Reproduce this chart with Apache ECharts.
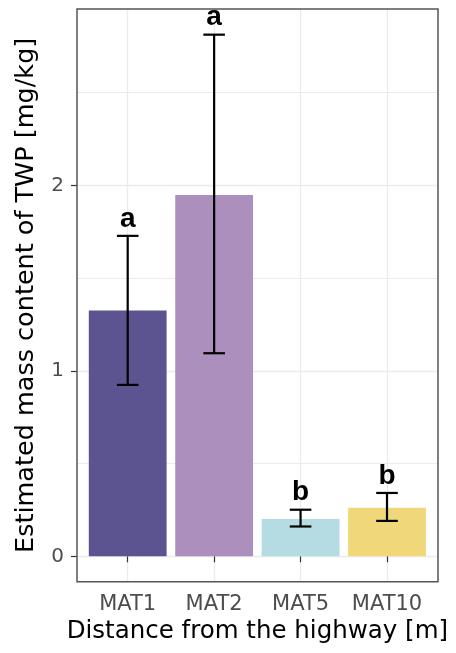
<!DOCTYPE html>
<html><head><meta charset="utf-8">
<script src="https://cdn.jsdelivr.net/npm/echarts@6/dist/echarts.min.js"></script>
<style>html,body{margin:0;padding:0;background:#fff}#c{width:456px;height:653px}</style>
</head><body><div id="c"></div>
<script>
// ---- data ----
const categories = ['MAT1', 'MAT2', 'MAT5', 'MAT10'];
const means = [1.32, 1.94, 0.20, 0.26];
const lower = [0.92, 1.09, 0.16, 0.19];
const upper = [1.72, 2.80, 0.25, 0.34];
const letters = ['a', 'a', 'b', 'b'];
const yTicks = [0, 1, 2];
const xTitle = 'Distance from the highway [m]';
const yTitle = 'Estimated mass content of TWP [mg/kg]';

// ---- style ----
const barColors = ['#5c5490', '#ad8fbd', '#b5dbe3', '#f0d77a'];
const FONT = '"DejaVu Sans", sans-serif';
const Z0 = 556.3, UNIT = 186.3;          // pixel row of y=0, pixels per unit
const PANEL = {left: 77, right: 438, top: 9, bottom: 581.7};
const H = 653, W = 456;

const chart = echarts.init(document.getElementById('c'));
chart.setOption({
  backgroundColor: '#ffffff',
  animation: false,
  grid: [
    // grid 0: y axis + horizontal grid lines across full panel
    {left: PANEL.left, right: W - PANEL.right, top: Z0 - 3 * UNIT, bottom: H - Z0},
    // grid 1: categories centered (first/last category at grid edges)
    {left: 127.7, right: W - 387, top: PANEL.top, bottom: H - PANEL.bottom}
  ],
  xAxis: [
    {gridIndex: 0, type: 'value', min: 0, max: 1, show: false},
    {
      gridIndex: 1, type: 'category', data: categories, boundaryGap: false,
      axisLine: {show: false},
      axisTick: {show: true, length: 6, lineStyle: {color: '#333333', width: 1.2}},
      axisLabel: {color: '#4d4d4d', fontSize: 21, fontFamily: FONT, margin: 12, interval: 0},
      splitLine: {show: true, lineStyle: {color: '#ebebeb', width: 1.3}},
      name: xTitle, nameLocation: 'middle', nameGap: 28,
      nameTextStyle: {color: '#000', fontSize: 24.5, fontFamily: FONT}
    }
  ],
  yAxis: [
    {
      gridIndex: 0, type: 'value', min: 0, max: 3, interval: 1,
      axisLine: {show: false},
      axisTick: {show: true, length: 6, customValues: yTicks, lineStyle: {color: '#333333', width: 1.2}},
      axisLabel: {
        color: '#4d4d4d', fontSize: 20, fontFamily: FONT, margin: 13, customValues: yTicks,
        formatter: v => yTicks.indexOf(v) >= 0 ? String(v) : ''
      },
      splitLine: {show: true, lineStyle: {color: '#ebebeb', width: 1.3}},
      minorTick: {show: false, splitNumber: 2},
      minorSplitLine: {show: true, lineStyle: {color: '#ebebeb', width: 1}}
    },
    {
      gridIndex: 1, type: 'value',
      min: -(PANEL.bottom - Z0) / UNIT, max: (Z0 - PANEL.top) / UNIT,
      axisLine: {show: false}, axisTick: {show: false}, axisLabel: {show: false},
      splitLine: {show: false},
      name: yTitle, nameLocation: 'middle', nameGap: 88,
      nameTextStyle: {color: '#000', fontSize: 25.5, fontFamily: FONT}
    }
  ],
  series: [
    {
      type: 'bar', xAxisIndex: 1, yAxisIndex: 1, clip: false,
      barWidth: '90%',
      data: means.map((v, i) => ({value: v, itemStyle: {color: barColors[i]}}))
    },
    {
      type: 'custom', xAxisIndex: 1, yAxisIndex: 1, clip: false, z: 5,
      data: categories.map((c, i) => [i, lower[i], upper[i]]),
      renderItem: function (params, api) {
        const i = api.value(0);
        const lo = api.coord([i, api.value(1)]);
        const hi = api.coord([i, api.value(2)]);
        const x = lo[0];
        const cw = api.size([1, 0])[0] * 0.25;
        const st = {stroke: '#000', lineWidth: 2.2};
        return {
          type: 'group',
          children: [
            {type: 'line', shape: {x1: x, y1: lo[1], x2: x, y2: hi[1]}, style: st},
            {type: 'line', shape: {x1: x - cw / 2, y1: hi[1], x2: x + cw / 2, y2: hi[1]}, style: st},
            {type: 'line', shape: {x1: x - cw / 2, y1: lo[1], x2: x + cw / 2, y2: lo[1]}, style: st},
            {
              type: 'text',
              style: {
                text: letters[params.dataIndex], x: x, y: hi[1] - 3,
                textAlign: 'center', textVerticalAlign: 'bottom',
                align: 'center', verticalAlign: 'bottom',
                font: 'bold 28px "Liberation Sans", Arial, sans-serif', fill: '#000'
              }
            }
          ]
        };
      }
    }
  ],
  graphic: [{
    type: 'rect', z: 100, silent: true,
    shape: {x: PANEL.left, y: PANEL.top, width: PANEL.right - PANEL.left, height: PANEL.bottom - PANEL.top},
    style: {fill: 'none', stroke: '#555555', lineWidth: 1.5}
  }]
});
</script></body></html>
